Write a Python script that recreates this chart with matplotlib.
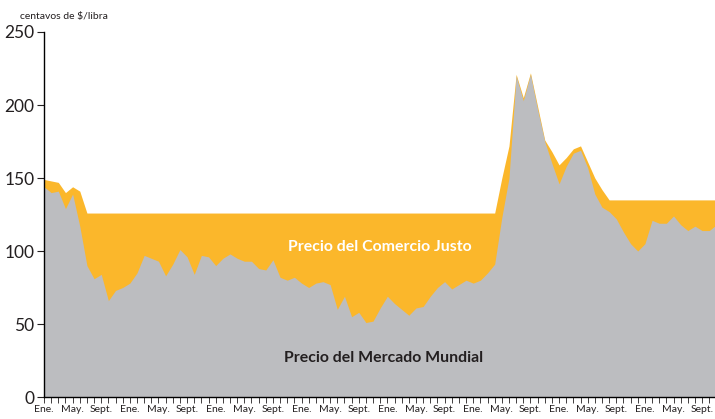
import numpy as np
import matplotlib.pyplot as plt

# precios mensuales, centavos de $/libra
mundial = [144, 140, 141, 129, 139, 117, 90, 81, 84, 66,
           73, 75, 78, 85, 97, 95, 93, 83, 91, 101,
           96, 84, 97, 96, 90, 95, 98, 95, 93, 93,
           88, 87, 94, 82, 80, 82, 78, 75, 78, 79,
           77, 60, 69, 55, 58, 51, 52, 61, 69, 64,
           60, 56, 61, 62, 69, 75, 79, 74, 77, 80,
           78, 80, 85, 91, 123, 150, 220, 203, 221, 197,
           175, 160, 146, 158, 167, 169, 157, 139, 130, 127,
           122, 113, 105, 100, 105, 121, 119, 119, 124, 118,
           114, 117, 114, 114, 118]
justo = [149, 148, 147, 140, 144, 141, 126, 126, 126, 126,
         126, 126, 126, 126, 126, 126, 126, 126, 126, 126,
         126, 126, 126, 126, 126, 126, 126, 126, 126, 126,
         126, 126, 126, 126, 126, 126, 126, 126, 126, 126,
         126, 126, 126, 126, 126, 126, 126, 126, 126, 126,
         126, 126, 126, 126, 126, 126, 126, 126, 126, 126,
         126, 126, 126, 126, 150, 172, 221, 205, 222, 199,
         176, 168, 159, 164, 170, 172, 161, 150, 142, 135,
         135, 135, 135, 135, 135, 135, 135, 135, 135, 135,
         135, 135, 135, 135, 135]
meses = ['Ene.', 'May.', 'Sept.'] * 8

x = np.arange(len(mundial))

plt.rcParams['font.family'] = ['Lato', 'DejaVu Sans']

fig = plt.figure(figsize=(7.15, 4.19), dpi=100)
ax = fig.add_axes([44/715, 1 - 397/419, 1 - 44/715, (397 - 32)/419])

ax.fill_between(x, 0, justo, color='#FBB72B', lw=0)
ax.fill_between(x, 0, mundial, color='#BCBDC0', lw=0)

ax.set_xlim(0, 93.8)
ax.set_ylim(0, 250)

ax.set_yticks([0, 50, 100, 150, 200, 250])
ax.tick_params(axis='y', labelsize=12.5, length=5, width=0.8, pad=2, colors='#231F20')
ax.set_xticks(np.arange(0, len(meses) * 4, 4))
ax.set_xticklabels(meses, fontsize=7.5)
ax.set_xticks(np.arange(0, 94), minor=True)
ax.tick_params(axis='x', which='both', length=4, width=0.6, pad=2, colors='#231F20')

for s in ['top', 'right']:
    ax.spines[s].set_visible(False)
ax.spines['left'].set_linewidth(1.0)
ax.spines['bottom'].set_linewidth(1.0)

fig.text(20/715, 1 - 16/419, 'centavos de $/libra', fontsize=7.5, va='center', color='#231F20')

ax.text(47, 103, 'Precio del Comercio Justo', color='white', fontsize=11.4,
        fontweight='bold', ha='center', va='center')
ax.text(47.5, 27, 'Precio del Mercado Mundial', color='#231F20', fontsize=11.4,
        fontweight='bold', ha='center', va='center')

fig.savefig('out.png', dpi=100)
